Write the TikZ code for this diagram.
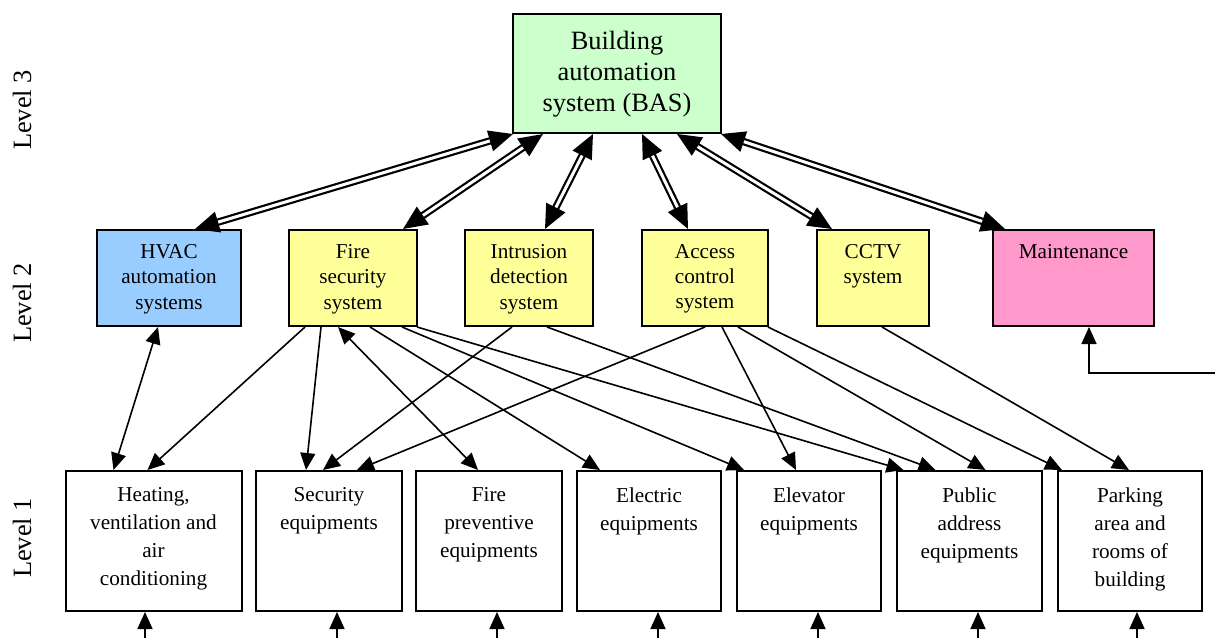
\documentclass[tikz,border=0pt]{standalone}
\usepackage{fontspec}
\setmainfont{Liberation Serif}
\usetikzlibrary{arrows.meta,calc}

\definecolor{basgreen}{HTML}{CCFFCC}
\definecolor{hvacblue}{HTML}{99CCFF}
\definecolor{sysyellow}{HTML}{FFFF99}
\definecolor{maintpink}{HTML}{FF99CC}

\tikzset{
  box/.style={draw, line width=1pt, inner sep=0pt},
  l2text/.style={anchor=north, align=center, inner sep=0pt, font=\fontsize{10.6}{12.65}\selectfont},
  l1text/.style={anchor=north, align=center, inner sep=0pt, font=\fontsize{10.6}{14}\selectfont},
  link/.style={line width=0.8pt, -{Triangle[length=8.5pt,width=7.5pt]}},
  twoway/.style={line width=0.8pt, {Triangle[length=8.5pt,width=7.5pt]}-{Triangle[length=8.5pt,width=7.5pt]}},
  dlink/.style={double, line width=1.1pt, double distance=1.5pt,
    {Triangle[length=12pt,width=10.5pt]}-{Triangle[length=12pt,width=10.5pt]}},
}

\begin{document}
\begin{tikzpicture}[x=0.5pt,y=-0.5pt]
\useasboundingbox (0,0) rectangle (1215,637);

% level labels
\foreach \y/\k in {110/3,303/2,538/1}{
  \node[rotate=90, inner sep=0pt, font=\fontsize{13.2}{15}\selectfont] (lvl\k) at (22,\y) {Level \k};
}

% level 3
\node[box, fill=basgreen, minimum width=104pt, minimum height=59.5pt] (bas) at (617,73.5) {};
\node[anchor=north, align=center, inner sep=0pt, font=\fontsize{13.2}{15.4}\selectfont] (bas-t)
  at ([yshift=-9pt]bas.north) {Building\\automation\\system (BAS)};

% level 2
\foreach \nm/\x/\w/\col/\txt in {
  hvac/169/72/hvacblue/{HVAC\\automation\\systems},
  fire/353/64/sysyellow/{Fire\\security\\system},
  intr/529/64/sysyellow/{Intrusion\\detection\\system},
  acc/705/63/sysyellow/{Access\\control\\system},
  cctv/873/56/sysyellow/{CCTV\\system},
  maint/1073.5/80.5/maintpink/{Maintenance}}{
  \node[box, fill=\col, minimum width=\w pt, minimum height=48pt] (\nm) at (\x,278) {};
  \node[l2text] (\nm-t) at ([yshift=-7.5pt]\nm.north) {\txt};
}

% level 1
\foreach \nm/\x/\w/\txt in {
  heat/153.5/88/{Heating,\\ventilation and\\air\\conditioning},
  sec/329/73/{Security\\equipments},
  fprev/489/73/{Fire\\preventive\\equipments},
  elec/649/72/{Electric\\equipments},
  elev/809/72/{Elevator\\equipments},
  pub/969.5/72.5/{Public\\address\\equipments},
  park/1130/72/{Parking\\area and\\rooms of\\building}}{
  \node[box, minimum width=\w pt, minimum height=70pt] (\nm) at (\x,541) {};
  \node[l1text] (\nm-t) at ([yshift=-8.5pt]\nm.north) {\txt};
}

% level 3 <-> level 2
\foreach \da/\nm/\db in {-104/hvac/26, -74/fire/50, -24/intr/16, 25/acc/-17, 60/cctv/-41, 104/maint/-68.5}{
  \draw[dlink] ($(bas.south)+(\da,0)$) -- ($(\nm.north)+(\db,0)$);
}

% level 2 -> level 1
\draw[twoway] ($(hvac.south)+(-11,0)$) -- ($(heat.north)+(-40,0)$);
\draw[twoway] ($(fire.south)+(-15,0)$) -- ($(fprev.north)+(-11,0)$);
\foreach \s/\ds/\e/\de in {fire/-48/heat/-6, fire/-32/sec/-23, fire/17/elec/-49,
    fire/49/elev/-65, fire/64/pub/-66, intr/-17/sec/-6, intr/18/pub/-34,
    acc/0/sec/28, acc/17/elev/-13, acc/33/pub/16, acc/63/park/-68, cctv/9/park/-1}{
  \draw[link] ($(\s.south)+(\ds,0)$) -- ($(\e.north)+(\de,0)$);
}

% inputs
\foreach \nm/\dx in {heat/-8.5, sec/8, fprev/8, elec/9, elev/9, pub/8.5, park/7}{
  \coordinate (\nm-in) at ($(\nm.south)+(\dx,26)$);
  \draw[link] (\nm-in) -- ($(\nm.south)+(\dx,0)$);
}

% feedback to maintenance
\coordinate (fb) at (1215,373);
\draw[link] (fb) -| ($(maint.south)+(15.5,0)$);
\end{tikzpicture}
\end{document}
